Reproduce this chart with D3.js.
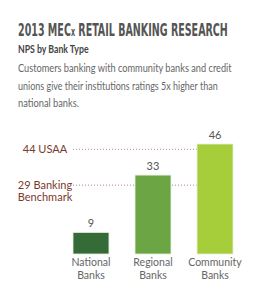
<!DOCTYPE html>
<html>
<head>
<meta charset="utf-8">
<script src="https://cdn.jsdelivr.net/npm/d3@7"></script>
<style>
  body { margin: 0; background: #fff; }
  svg { display: block; }
</style>
</head>
<body>
<div id="chart"></div>
<script>
const categories = [["National", "Banks"], ["Regional", "Banks"], ["Community", "Banks"]];
const values = [9, 33, 46];
const barColors = ["#356b36", "#6ba544", "#a6cd3a"];
const refValues = [44, 29];
const refLabels = [["44 USAA"], ["29 Banking", "Benchmark"]];
const descLines = [
  "Customers banking with community banks and credit",
  "unions give their institutions ratings 5x higher than",
  "national banks."
];
const descWidths = [214, 200, 61];

const W = 257, H = 300;
const svg = d3.select("#chart").append("svg").attr("width", W).attr("height", H);

// squeeze a text horizontally to a given width, anchored at its x
const fitWidth = (text, x0, width) => {
  const w = text.node().getBBox().width;
  text.attr("transform", `translate(${x0},0) scale(${width / w},1) translate(${-x0},0)`);
};

// header
const title = svg.append("text")
  .attr("x", 18).attr("y", 36)
  .style("font-family", "'DejaVu Sans Condensed', 'DejaVu Sans', sans-serif")
  .style("font-weight", "bold")
  .style("font-size", "18px")
  .style("fill", "#555");
title.append("tspan").text("2013 MEC");
title.append("tspan").style("font-size", "12px").text("x");
title.append("tspan").text(" RETAIL BANKING RESEARCH");
fitWidth(title, 18, 210);

const sub = svg.append("text")
  .attr("x", 18).attr("y", 53)
  .style("font-family", "Lato, sans-serif")
  .style("font-weight", "bold")
  .style("font-size", "10.5px")
  .style("fill", "#444")
  .text("NPS by Bank Type");
fitWidth(sub, 18, 71);

svg.selectAll(".desc")
  .data(descLines)
  .enter()
  .append("text")
  .attr("class", "desc")
  .attr("x", 18)
  .attr("y", (d, i) => 72 + i * 17.7)
  .style("font-family", "Lato, sans-serif")
  .style("font-size", "10.5px")
  .style("fill", "#666")
  .text((d) => d)
  .each(function (d, i) {
    fitWidth(d3.select(this), 18, descWidths[i]);
  });

// chart
const x = d3.scaleBand().domain(d3.range(values.length)).range([73, 233]).paddingInner(0.42).paddingOuter(0);
const y = d3.scaleLinear().domain([0, 46]).range([254, 144]);

const g = svg.append("g");

g.selectAll(".ref")
  .data(refValues)
  .enter()
  .append("line")
  .attr("class", "ref")
  .attr("x1", 73)
  .attr("x2", x(2))
  .attr("y1", (d) => y(d) + 0.5)
  .attr("y2", (d) => y(d) + 0.5)
  .style("stroke", "#b78a82")
  .style("stroke-width", 1)
  .style("stroke-dasharray", "1,2");

const refText = g.selectAll(".reflabel")
  .data(refLabels)
  .enter()
  .append("text")
  .attr("class", "reflabel")
  .attr("text-anchor", "middle")
  .attr("x", 45)
  .attr("y", (d, i) => y(refValues[i]) + 4)
  .style("font-family", "Lato, sans-serif")
  .style("font-size", "11px")
  .style("fill", "#7b3a2c");

refText.selectAll("tspan")
  .data((d) => d)
  .enter()
  .append("tspan")
  .attr("x", 45)
  .attr("dy", (d, i) => (i === 0 ? 0 : 12))
  .text((d) => d);

g.selectAll(".bar")
  .data(values)
  .enter()
  .append("rect")
  .attr("class", "bar")
  .attr("x", (d, i) => x(i))
  .attr("width", x.bandwidth())
  .attr("y", (d) => y(d))
  .attr("height", (d) => y(0) - y(d))
  .style("fill", (d, i) => barColors[i])
  .style("stroke", "#e6efdc")
  .style("stroke-width", 0.8);

g.selectAll(".val")
  .data(values)
  .enter()
  .append("text")
  .attr("class", "val")
  .attr("text-anchor", "middle")
  .attr("x", (d, i) => x(i) + x.bandwidth() / 2)
  .attr("y", (d) => y(d) - 5)
  .style("font-family", "Lato, sans-serif")
  .style("font-size", "11px")
  .style("fill", "#555")
  .text((d) => d);

const cat = g.selectAll(".cat")
  .data(categories)
  .enter()
  .append("text")
  .attr("class", "cat")
  .attr("text-anchor", "middle")
  .attr("y", 266)
  .style("font-family", "Lato, sans-serif")
  .style("font-size", "10.5px")
  .style("fill", "#666");

cat.selectAll("tspan")
  .data((d, i) => d.map((t) => ({ t, i })))
  .enter()
  .append("tspan")
  .attr("x", (d) => x(d.i) + x.bandwidth() / 2)
  .attr("dy", (d, j) => (j === 0 ? 0 : 12.5))
  .text((d) => d.t);
</script>
</body>
</html>
